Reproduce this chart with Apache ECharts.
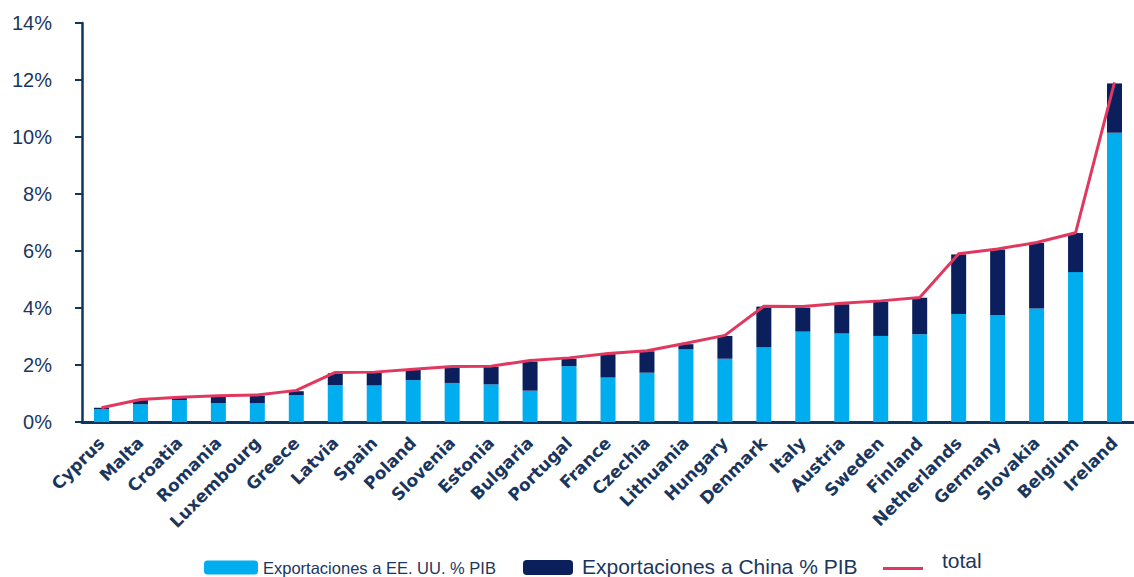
<!DOCTYPE html>
<html>
<head>
<meta charset="utf-8">
<script src="https://cdn.jsdelivr.net/npm/echarts@6/dist/echarts.min.js"></script>
<style>
html,body{margin:0;padding:0;background:#fff;}
#main{width:1134px;height:577px;}
</style>
</head>
<body>
<div id="main"></div>
<script>
const categories = ['Cyprus','Malta','Croatia','Romania','Luxembourg','Greece','Latvia','Spain','Poland','Slovenia','Estonia','Bulgaria','Portugal','France','Czechia','Lithuania','Hungary','Denmark','Italy','Austria','Sweden','Finland','Netherlands','Germany','Slovakia','Belgium','Ireland'];
const usExports = [0.45,0.62,0.77,0.66,0.66,0.94,1.29,1.28,1.47,1.37,1.32,1.10,1.96,1.56,1.73,2.55,2.22,2.63,3.17,3.11,3.02,3.08,3.79,3.75,3.98,5.26,10.15];
const chinaExports = [0.05,0.15,0.08,0.24,0.26,0.14,0.42,0.44,0.36,0.55,0.62,1.02,0.26,0.82,0.75,0.18,0.80,1.42,0.84,1.02,1.20,1.28,2.09,2.30,2.30,1.37,1.73];
const totals = [0.50,0.79,0.87,0.92,0.95,1.11,1.74,1.75,1.85,1.95,1.96,2.16,2.25,2.40,2.50,2.76,3.04,4.06,4.05,4.17,4.25,4.37,5.90,6.07,6.30,6.64,11.92];
const yTicks = {min:0, max:14, interval:2};
const seriesNames = ['Exportaciones a EE. UU. % PIB','Exportaciones a China % PIB','total'];

const lightBlue = '#00adef';
const navy = '#0a1f5c';
const red = '#e2385f';
const axisColor = '#0e3760';
const textColor = '#1b365d';

const chart = echarts.init(document.getElementById('main'), null, {renderer:'svg'});
chart.setOption({
  animation:false,
  backgroundColor:'#ffffff',
  grid:{left:82, top:23, bottom:155, width:1061, containLabel:false},
  legend:[
    {data:[seriesNames[0]], left:204, top:559, padding:0, itemWidth:54, itemHeight:14, itemGap:0,
     textStyle:{fontFamily:'Liberation Sans, Arial, sans-serif', fontSize:16.5, color:textColor}},
    {data:[seriesNames[1]], left:523, top:556, padding:0, itemWidth:50, itemHeight:15, itemGap:0,
     formatter:'{t|{name}}',
     textStyle:{fontFamily:'Liberation Sans, Arial, sans-serif', fontSize:21, color:textColor,
       rich:{t:{fontFamily:'Liberation Sans, Arial, sans-serif', fontSize:21, lineHeight:18, color:textColor, padding:[0,0,2,4]}}}},
    {data:[{name:seriesNames[2], icon:'rect'}], left:883, top:550, padding:0, itemWidth:40, itemHeight:3, itemGap:0,
     itemStyle:{color:red},
     formatter:'{t|{name}}',
     textStyle:{fontFamily:'Liberation Sans, Arial, sans-serif', fontSize:21, color:textColor,
       rich:{t:{fontFamily:'Liberation Sans, Arial, sans-serif', fontSize:21, lineHeight:20, color:textColor, padding:[0,0,16,14]}}}}
  ],
  xAxis:{
    type:'category', data:categories, boundaryGap:true,
    axisLine:{show:true, lineStyle:{color:axisColor, width:3}},
    axisTick:{show:false},
    axisLabel:{interval:0, rotate:45, margin:18, color:textColor, fontFamily:'DejaVu Sans, Verdana, sans-serif', fontWeight:'bold', fontSize:17}
  },
  yAxis:{
    type:'value', min:yTicks.min, max:yTicks.max, interval:yTicks.interval,
    axisLine:{show:true, lineStyle:{color:axisColor, width:2.5}},
    axisTick:{show:true, length:7, lineStyle:{color:axisColor, width:2}},
    splitLine:{show:false},
    axisLabel:{formatter:'{value}%', margin:30, color:textColor, fontFamily:'Liberation Sans, Arial, sans-serif', fontSize:20}
  },
  series:[
    {name:seriesNames[0], type:'bar', stack:'exp', data:usExports, barWidth:15, itemStyle:{color:lightBlue}},
    {name:seriesNames[1], type:'bar', stack:'exp', data:chinaExports, barWidth:15, itemStyle:{color:navy}},
    {name:seriesNames[2], type:'line', data:totals, symbol:'none', showSymbol:false, lineStyle:{color:red, width:3}, itemStyle:{color:red}, z:5}
  ]
});
</script>
</body>
</html>
